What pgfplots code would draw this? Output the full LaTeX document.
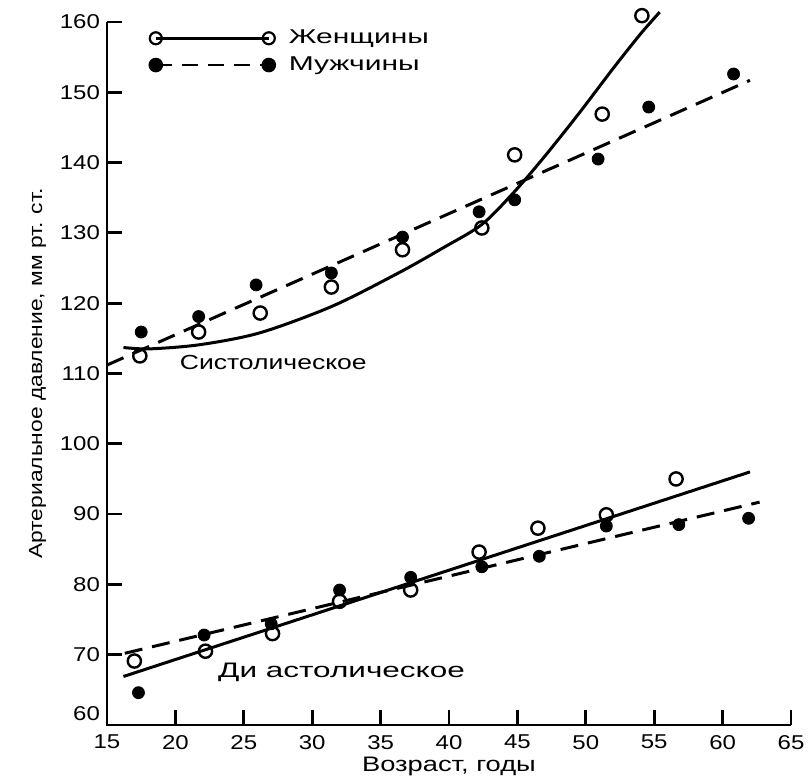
\documentclass[border=0pt]{standalone}
\usepackage{fontspec}
\setmainfont{Liberation Sans}[FakeStretch=1.2]
\newfontfamily\labfont{Liberation Sans}[FakeStretch=1.3]
\newfontfamily\diafont{Liberation Sans}[FakeStretch=1.5]
\newfontfamily\legfont{Liberation Sans}[FakeStretch=1.5]
\usepackage{pgfplots}
\pgfplotsset{compat=1.18}

\begin{document}
\begin{tikzpicture}
\begin{axis}[
  name=ax,
  scale only axis, width=342pt, height=351.5pt,
  xmin=15, xmax=65, ymin=60, ymax=160,
  axis line style={draw=none},
  xtick={15,20,...,65}, ytick={60,70,...,160},
  yticklabels={\raisebox{11pt}{60},70,80,90,100,110,120,130,140,150,160},
  xtick pos=bottom, ytick pos=left,
  tick align=inside,
  major tick length=7.5pt,
  every tick/.style={line width=1.4pt, black},
  /pgf/number format/assume math mode=true,
  ticklabel style={font=\fontsize{10}{11}\selectfont},
  xticklabel style={yshift=-1.5pt},
  xlabel={Возраст, годы},
  ylabel={Артериальное давление, мм рт. ст.},
  xlabel style={font=\labfont\fontsize{10.5}{12}\selectfont, yshift=3pt},
  ylabel style={font=\fontsize{9.5}{11}\selectfont},
  clip=false,
  unbounded coords=jump,
  after end axis/.code={
    \draw[line width=1.2pt, black] (rel axis cs:0,1) -- (rel axis cs:0,0) -- (rel axis cs:1,0);
  },
  legend style={at={(rel axis cs:0.062,0.995)}, anchor=north west, draw=none, fill=none,
    inner sep=0pt, row sep=1pt, font=\legfont\fontsize{10}{12}\selectfont,
    cells={anchor=west},
    /tikz/every odd column/.append style={column sep=5pt}},
  legend image code/.code={\draw[mark repeat=1,#1] plot coordinates {(0pt,0pt) (56.5pt,0pt)};},
]
% legend entries
\addlegendimage{black, line width=1.3pt, mark=o, mark size=3pt, mark options={solid, fill=white, line width=1.1pt}}
\addlegendentry{Женщины}
\addlegendimage{black, line width=1.3pt, dash pattern=on 8pt off 5pt, mark=*, mark size=3pt, mark options={solid}}
\addlegendentry{Мужчины}

% tick marks of the x axis (pointing up, inside)
\addplot[black, line width=1.4pt, forget plot] coordinates {
 (20,60) (20,62.1) (20,nan) (25,60) (25,62.1) (25,nan) (30,60) (30,62.1) (30,nan)
 (35,60) (35,62.1) (35,nan) (40,60) (40,62.1) (40,nan) (45,60) (45,62.1) (45,nan)
 (50,60) (50,62.1) (50,nan) (55,60) (55,62.1) (55,nan) (60,60) (60,62.1) (60,nan)
 (65,60) (65,62.1)};
% tick marks of the y axis (pointing right, inside)
\addplot[black, line width=1.4pt, forget plot] coordinates {
 (15,70) (16.1,70) (nan,70) (15,80) (16.1,80) (nan,80) (15,90) (16.1,90) (nan,90)
 (15,100) (16.1,100) (nan,100) (15,110) (16.1,110) (nan,110) (15,120) (16.1,120) (nan,120)
 (15,130) (16.1,130) (nan,130) (15,140) (16.1,140) (nan,140) (15,150) (16.1,150) (nan,150)
 (15,160) (16.1,160)};

% systolic, women: fitted curve
\addplot[black, line width=1.5pt, smooth, forget plot] coordinates {
 (16.2,113.7) (18.1,113.5) (21.8,114.1) (26.2,115.8) (31.5,119.6) (36.4,124.4)
 (39.5,127.8) (42.4,131.2) (44.8,135.9) (47.0,140.9) (49.5,147.0) (52.0,153.4)
 (54.0,158.3) (55.4,161.4)};
% systolic, men: fitted line
\addplot[black, line width=1.5pt, dash pattern=on 9pt off 5pt, forget plot] coordinates {
 (15.0,111.2) (62.0,151.7)};
% diastolic, women
\addplot[black, line width=1.5pt, forget plot] coordinates {(16.2,66.9) (62.0,96.0)};
% diastolic, men
\addplot[black, line width=1.5pt, dash pattern=on 9pt off 5pt, forget plot] coordinates {(16.3,70.2) (62.7,91.7)};

% systolic points, men
\addplot[only marks, mark=*, mark size=3pt, black, forget plot] coordinates {
 (17.5,115.9) (21.7,118.1) (25.9,122.6) (31.4,124.3) (36.6,129.4) (42.2,133.0)
 (44.8,134.7) (50.9,140.5) (54.6,147.9) (60.8,152.6)};
% systolic points, women
\addplot[only marks, mark=o, mark size=3.3pt, black, mark options={fill=white, line width=1.2pt}, forget plot] coordinates {
 (17.4,112.5) (21.7,115.9) (26.2,118.6) (31.4,122.3) (36.6,127.6) (42.4,130.7)
 (44.8,141.1) (51.2,146.9) (54.1,160.9)};
% diastolic points, men
\addplot[only marks, mark=*, mark size=3pt, black, forget plot] coordinates {
 (17.3,64.6) (22.1,72.8) (27.0,74.4) (32.0,79.2) (37.2,81.0) (42.4,82.5)
 (46.6,84.0) (51.5,88.3) (56.8,88.5) (61.9,89.4)};
% diastolic points, women
\addplot[only marks, mark=o, mark size=3.3pt, black, mark options={fill=white, line width=1.2pt}, forget plot] coordinates {
 (17.0,69.1) (22.2,70.5) (27.1,73.0) (32.0,77.6) (37.2,79.2) (42.2,84.6)
 (46.5,88.0) (51.5,89.9) (56.6,95.0)};

\node[anchor=base west, inner sep=0pt, font=\labfont\fontsize{10.2}{12}\selectfont] at (axis cs:20.3,110.5) {Систолическое};
\node[anchor=base west, inner sep=0pt, font=\diafont\fontsize{10.5}{12}\selectfont] at (axis cs:23.1,66.8) {Ди астолическое};
\end{axis}
\pgfresetboundingbox
\path ([xshift=-53.5pt,yshift=-27pt]ax.south west) rectangle ([xshift=9pt,yshift=11pt]ax.north east);
\end{tikzpicture}
\end{document}
